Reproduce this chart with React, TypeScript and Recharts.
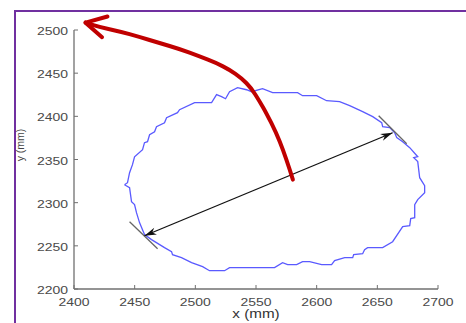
import { LineChart, Line, XAxis, YAxis, ReferenceLine } from "recharts";

const xTicks = [2400, 2450, 2500, 2550, 2600, 2650, 2700];
const yTicks = [2200, 2250, 2300, 2350, 2400, 2450, 2500];

// traced contour (mm), clockwise from the leftmost point
const contourX = [
  2441.6, 2444.1, 2445.8, 2448.2, 2449.9, 2456.5, 2458.1, 2460.6, 2462.3, 2466.4,
  2468.0, 2474.6, 2476.3, 2485.3, 2487.0, 2499.4, 2513.4, 2517.5, 2521.6, 2524.9,
  2528.2, 2534.8, 2542.2, 2546.4, 2555.4, 2563.7, 2584.3, 2588.4, 2600.0, 2608.2,
  2618.9, 2627.2, 2637.9, 2646.2, 2653.6, 2654.4, 2660.2, 2664.3, 2666.0, 2670.9,
  2676.7, 2683.3, 2680.0, 2683.3, 2684.9, 2689.0, 2689.0, 2683.3, 2680.8, 2680.8,
  2677.5, 2676.7, 2670.9, 2662.6, 2654.4, 2642.0, 2639.5, 2637.9, 2630.5, 2629.7,
  2623.1, 2614.8, 2612.3, 2604.1, 2594.2, 2588.4, 2583.5, 2576.1, 2571.9, 2565.3,
  2544.7, 2528.2, 2524.1, 2511.7, 2506.0, 2496.9, 2488.6, 2481.2, 2480.4, 2474.6,
  2463.9, 2458.1, 2454.0, 2451.5, 2449.9, 2447.4, 2445.8, 2441.6,
];
const contourY = [
  2320.8, 2323.1, 2334.7, 2344.0, 2353.2, 2361.4, 2369.5, 2370.6, 2378.7, 2382.2,
  2388.0, 2392.6, 2398.4, 2404.2, 2407.7, 2415.8, 2415.8, 2425.1, 2422.8, 2420.4,
  2428.5, 2433.2, 2430.8, 2428.5, 2432.0, 2427.4, 2427.4, 2423.9, 2423.9, 2418.1,
  2417.0, 2412.4, 2405.4, 2399.6, 2392.7, 2388.0, 2386.9, 2381.0, 2375.3, 2370.6,
  2363.7, 2353.2, 2352.1, 2347.5, 2328.9, 2319.7, 2311.6, 2303.5, 2297.7, 2282.6,
  2281.5, 2273.4, 2272.2, 2254.8, 2247.9, 2247.9, 2245.6, 2240.9, 2239.8, 2236.3,
  2236.3, 2232.8, 2228.2, 2228.2, 2231.6, 2231.6, 2228.2, 2228.2, 2230.5, 2224.7,
  2224.7, 2224.7, 2221.2, 2221.2, 2225.9, 2230.5, 2236.3, 2239.8, 2243.3, 2247.9,
  2257.2, 2263.0, 2276.9, 2288.4, 2297.7, 2301.2, 2317.4, 2320.8,
];

// tangents at the two ends of the major axis
const tangentLeftX = [2445.8, 2468.9];
const tangentLeftY = [2277.9, 2246.7];
const tangentRightX = [2651.1, 2674.2];
const tangentRightY = [2400.7, 2368.3];

// major axis (double arrow)
const axisEndX = [2458.1, 2662.6];
const axisEndY = [2261.7, 2381.0];

// red annotation arrow, tail to tip, then its two wing ends
const redX = [
  2580.4, 2577.7, 2572.2, 2566.7, 2558.5, 2553.0, 2546.1, 2537.9, 2528.2,
  2517.3, 2503.5, 2487.0, 2470.5, 2454.0, 2437.5, 2421.0, 2409.5,
];
const redY = [
  2326.6, 2339.0, 2361.4, 2380.7, 2403.9, 2417.3, 2432.8, 2444.4, 2454.0,
  2461.8, 2469.4, 2478.0, 2484.9, 2491.9, 2498.4, 2503.5, 2508.5,
];
const redWingX = [2427.6, 2423.1];
const redWingY = [2515.6, 2491.7];

const toRows = (xs: number[], ys: number[]) => xs.map((x, i) => ({ x, y: ys[i] }));

const contour = toRows(contourX, contourY);
const tangentLeft = toRows(tangentLeftX, tangentLeftY);
const tangentRight = toRows(tangentRightX, tangentRightY);

const axisGray = "#707070";
const labelGray = "#4a4a4a";
const stretch = 1.27;

function BottomTick({ x, y, payload }: any) {
  return (
    <g>
      <line x1={x} y1={y} x2={x} y2={y - 4} stroke={axisGray} />
      <text
        transform={`translate(${x},${y + 17}) scale(${stretch},1)`}
        textAnchor="middle"
        fontSize={11}
        fill={labelGray}
      >
        {payload.value}
      </text>
    </g>
  );
}

function LeftTick({ x, y, payload }: any) {
  return (
    <g>
      <line x1={x} y1={y} x2={x + 4} y2={y} stroke={axisGray} />
      <text
        transform={`translate(${x - 6},${y + 5}) scale(${stretch},1)`}
        textAnchor="end"
        fontSize={11}
        fill={labelGray}
      >
        {payload.value}
      </text>
    </g>
  );
}

function TopTick({ x, y }: any) {
  return <line x1={x} y1={y} x2={x} y2={y + 4} stroke={axisGray} />;
}

function RightTick({ x, y }: any) {
  return <line x1={x} y1={y} x2={x - 4} y2={y} stroke={axisGray} />;
}

function XTitle({ viewBox }: any) {
  const cx = viewBox ? viewBox.x + viewBox.width / 2 : 256;
  const top = viewBox ? viewBox.y : 289;
  return (
    <text
      transform={`translate(${cx},${top + 29}) scale(${stretch},1)`}
      textAnchor="middle"
      fontSize={12}
      fill="#333"
    >
      x (mm)
    </text>
  );
}

function YTitle() {
  return (
    <text
      transform="translate(24,145) rotate(-90)"
      textAnchor="middle"
      style={{ fontSize: 10.5 }}
      fill="#444"
    >
      y (mm)
    </text>
  );
}

function headPath(tx: number, ty: number, fx: number, fy: number, len: number, half: number) {
  const d = Math.hypot(tx - fx, ty - fy) || 1;
  const ux = (tx - fx) / d;
  const uy = (ty - fy) / d;
  const bx = tx - ux * len;
  const by = ty - uy * len;
  const nx = -uy;
  const ny = ux;
  const mx = tx - ux * len * 0.7;
  const my = ty - uy * len * 0.7;
  return `M${tx},${ty}L${bx + nx * half},${by + ny * half}L${mx},${my}L${bx - nx * half},${by - ny * half}Z`;
}

function DoubleArrow({ x1, y1, x2, y2 }: any) {
  return (
    <g>
      <line x1={x1} y1={y1} x2={x2} y2={y2} stroke="#111" strokeWidth={1.3} />
      <path d={headPath(x1, y1, x2, y2, 12, 3.6)} fill="#111" />
      <path d={headPath(x2, y2, x1, y1, 12, 3.6)} fill="#111" />
    </g>
  );
}

// the segment runs tail -> tip; scales are linear so the other points map through it
function RedArrow({ x1, y1, x2, y2 }: any) {
  const n = redX.length - 1;
  const px = (v: number) => x1 + ((v - redX[0]) / (redX[n] - redX[0])) * (x2 - x1);
  const py = (v: number) => y1 + ((v - redY[0]) / (redY[n] - redY[0])) * (y2 - y1);
  const pts = redX.map((v, i) => [px(v), py(redY[i])]);
  // smooth through the traced points with midpoint quadratics
  let d = `M${pts[0][0]},${pts[0][1]}`;
  for (let i = 1; i < pts.length - 1; i++) {
    const mx = (pts[i][0] + pts[i + 1][0]) / 2;
    const my = (pts[i][1] + pts[i + 1][1]) / 2;
    d += `Q${pts[i][0]},${pts[i][1]} ${mx},${my}`;
  }
  d += `L${pts[n][0]},${pts[n][1]}`;
  const wings = redWingX
    .map((v, i) => `M${px(v)},${py(redWingY[i])}L${x2},${y2}`)
    .join("");
  return (
    <g fill="none" stroke="#c00000" strokeWidth={4} strokeLinecap="round" strokeLinejoin="round">
      <path d={d} />
      <path d={wings} />
    </g>
  );
}

export default function App() {
  return (
    <div
      style={{
        position: "fixed",
        left: 0,
        top: 0,
        width: 466,
        height: 323,
        overflow: "hidden",
        background: "#fff",
        fontFamily: "'Liberation Sans', Arial, sans-serif",
      }}
    >
      <div
        style={{
          position: "absolute",
          left: 14,
          top: 10,
          width: 470,
          height: 330,
          borderLeft: "2.5px solid #7030a0",
          borderTop: "2.5px solid #7030a0",
        }}
      />
      <div style={{ position: "absolute", left: 0, top: 0 }}>
        <LineChart width={466} height={323} margin={{ top: 30, right: 28, bottom: 14, left: 0 }}>
          <XAxis
            type="number"
            dataKey="x"
            domain={[2400, 2700]}
            ticks={xTicks}
            height={20}
            tickSize={0}
            tickMargin={0}
            tickLine={false}
            axisLine={{ stroke: axisGray, strokeWidth: 1.3 }}
            tick={<BottomTick />}
            label={{ content: <XTitle /> }}
          />
          <XAxis
            xAxisId="top"
            orientation="top"
            type="number"
            dataKey="x"
            domain={[2400, 2700]}
            ticks={xTicks}
            height={0}
            tickSize={0}
            tickMargin={0}
            tickLine={false}
            axisLine={{ stroke: axisGray, strokeWidth: 1.3 }}
            tick={<TopTick />}
          />
          <YAxis
            type="number"
            domain={[2200, 2500]}
            ticks={yTicks}
            width={74}
            tickSize={0}
            tickMargin={0}
            tickLine={false}
            axisLine={{ stroke: axisGray, strokeWidth: 1.3 }}
            tick={<LeftTick />}
            label={{ content: <YTitle /> }}
          />
          <YAxis
            yAxisId="right"
            orientation="right"
            type="number"
            domain={[2200, 2500]}
            ticks={yTicks}
            width={0}
            tickSize={0}
            tickMargin={0}
            tickLine={false}
            axisLine={{ stroke: axisGray, strokeWidth: 1.3 }}
            tick={<RightTick />}
          />
          <Line
            data={contour}
            dataKey="y"
            stroke="#5a5aff"
            strokeWidth={1.3}
            dot={false}
            activeDot={false}
            isAnimationActive={false}
          />
          <Line
            data={tangentLeft}
            dataKey="y"
            stroke="#666"
            strokeWidth={1.3}
            dot={false}
            activeDot={false}
            isAnimationActive={false}
          />
          <Line
            data={tangentRight}
            dataKey="y"
            stroke="#666"
            strokeWidth={1.3}
            dot={false}
            activeDot={false}
            isAnimationActive={false}
          />
          <ReferenceLine
            segment={[
              { x: axisEndX[0], y: axisEndY[0] },
              { x: axisEndX[1], y: axisEndY[1] },
            ]}
            ifOverflow="visible"
            shape={(p: any) => <DoubleArrow {...p} />}
          />
          <ReferenceLine
            segment={[
              { x: redX[0], y: redY[0] },
              { x: redX[redX.length - 1], y: redY[redY.length - 1] },
            ]}
            ifOverflow="visible"
            shape={(p: any) => <RedArrow {...p} />}
          />
        </LineChart>
      </div>
    </div>
  );
}
